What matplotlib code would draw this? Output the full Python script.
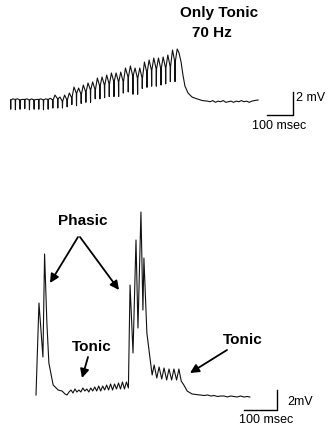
import matplotlib
matplotlib.use("Agg")
import matplotlib.pyplot as plt

plt.rcParams["font.family"] = ["Liberation Sans", "DejaVu Sans"]

# -------------------------------------------------
# DATA (ms / mV)
# -------------------------------------------------
# top trace: 70 Hz train, one stimulus artifact per cycle
top_stim_ms = [2, 20, 38, 56, 74, 92, 110, 128, 146, 164, 183, 201, 219, 237,
               255, 273, 291, 309, 327, 345, 363, 381, 399, 417, 435, 454, 472,
               490, 508, 526, 544, 562, 580, 598, 616, 634]
top_base_mv = [0.0, 0.05, 0.0, 0.05, 0.0, 0.0, 0.05, 0.0, 0.05,
               0.0, 0.1, -0.1, 0.0, 0.2, 0.6, 0.5, 0.7, 0.9, 0.9, 1.2, 1.3,
               1.4, 1.6, 1.6, 1.6, 2.0, 2.1, 1.9, 1.9, 2.4, 2.6, 2.7, 2.7,
               2.8, 2.9, 3.3]
top_dip_mv = [-0.8, -0.85, -0.8, -0.75, -0.85, -0.8, -0.8, -0.85, -0.8,
              -0.7, -0.7, -0.7, -0.6, -0.4, -0.5, -0.3, -0.2, -0.2, 0.1, 0.1,
              0.2, 0.3, 0.3, 0.3, 0.6, 0.7, 0.5, 0.5, 1.0, 1.1, 1.2, 1.2,
              1.3, 1.4, 1.6, 1.6]
top_peak_mv = [0.1, 0.1, 0.05, 0.1, 0.1, 0.05, 0.1, 0.1, 0.15,
               0.43, 0.26, 0.43, 0.61, 1.13, 1.04, 1.30, 1.48, 1.57, 1.91,
               2.0, 2.17, 2.35, 2.35, 2.43, 2.78, 2.96, 2.78, 2.78, 3.3, 3.48,
               3.65, 3.65, 3.74, 3.91, 4.35, 4.43]
top_tail_ms = [650, 658, 665, 673, 685, 700, 719, 740, 760, 770, 780, 790,
               800, 810, 820, 830, 840, 850, 860, 870, 880, 890, 900, 910,
               920, 930, 940, 954]
top_tail_mv = [4.1, 3.3, 2.2, 1.2, 0.6, 0.26, 0.1, -0.05, -0.1, -0.15, -0.05,
               -0.2, -0.1, -0.15, -0.05, -0.2, -0.15, -0.1, -0.2, -0.1, -0.15,
               -0.05, -0.15, -0.1, -0.2, -0.1, -0.05, 0.0]

# bottom trace: phasic bursts with tonic ripple in between
bottom_ms = [0, 9, 21, 26, 33, 39, 52, 67, 79, 88, 94,
             100, 106, 112, 118, 124, 130, 136, 142, 148, 154, 160, 166, 172,
             178, 184, 190, 196, 202, 208, 214, 220, 226, 232, 238, 244, 250,
             256, 262, 268, 274, 280,
             285, 294, 303, 309, 318, 324, 327, 336, 345,
             352, 358, 366, 373, 381, 388, 396, 403, 411, 418, 426, 433, 440,
             448, 458, 473, 497,
             510, 520, 530, 540, 550, 560, 570, 580, 590, 600, 610, 620, 630,
             640, 648]
bottom_mv = [0.0, 9.2, 3.8, 14.1, 7.2, 3.2, 1.0, 0.5, 0.4, 0.1, 0.0,
             0.3, 0.5, 0.2, 0.6, 0.3, 0.5, 0.3, 0.7, 0.4, 0.6, 0.3, 0.7, 0.4,
             0.8, 0.4, 0.9, 0.4, 0.9, 0.5, 1.0, 0.5, 1.1, 0.5, 1.1, 0.6, 1.2,
             0.6, 1.3, 0.6, 1.3, 0.7,
             11.0, 4.2, 15.5, 6.7, 18.3, 8.5, 13.7, 6.2, 3.8,
             2.0, 3.0, 1.7, 2.8, 1.6, 2.7, 1.5, 2.6, 1.5, 2.6, 1.5, 2.6, 1.4,
             1.0, 0.4, 0.1, 0.0,
             -0.05, 0.0, -0.1, -0.05, -0.15, -0.1, -0.1, -0.2, -0.1, -0.15,
             -0.2, -0.1, -0.2, -0.15, -0.2]

# scale bars
bar_ms = 100
bar_mv = 2

# -------------------------------------------------
# LAYOUT (pixels of the 330 x 429 image)
# -------------------------------------------------
W, H = 330, 429


def fp(x, y):
    return (x / W, 1 - y / H)


def trace_axes(fig, x0, y0, px_per_ms, px_per_mv):
    ax = fig.add_axes([0, 0, 1, 1])
    ax.set_xlim(-x0 / px_per_ms, (W - x0) / px_per_ms)
    ax.set_ylim((y0 - H) / px_per_mv, y0 / px_per_mv)
    ax.axis("off")
    ax.patch.set_alpha(0)
    return ax


fig = plt.figure(figsize=(W / 100, H / 100), dpi=100)
fig.patch.set_facecolor("white")

# -------------------------------------------------
# TOP PANEL
# -------------------------------------------------
ax_top = trace_axes(fig, 10, 100, 0.26, 11.5)

t_top, v_top = [], []
for t, base, dip, peak in zip(top_stim_ms, top_base_mv, top_dip_mv, top_peak_mv):
    t_top += [t, t + 0.8, t + 1.6, t + 9]
    v_top += [base, dip, base, peak]
t_top += top_tail_ms
v_top += top_tail_mv
ax_top.plot(t_top, v_top, color="#111111", lw=0.8, solid_joinstyle="round")

# scale bar
sx, sy = 1088, -1.3
ax_top.plot([sx - bar_ms, sx, sx], [sy, sy, sy + bar_mv], color="black", lw=1.0)

fig.text(*fp(219, 13), "Only Tonic", ha="center", va="center",
         fontsize=11, weight="bold")
fig.text(*fp(212, 33), "70 Hz", ha="center", va="center",
         fontsize=11, weight="bold")
fig.text(*fp(296, 98), "2 mV", ha="left", va="center", fontsize=9)
fig.text(*fp(279, 126), "100 msec", ha="center", va="center", fontsize=9)

# -------------------------------------------------
# BOTTOM PANEL
# -------------------------------------------------
ax_bot = trace_axes(fig, 36, 395, 0.33, 10)
ax_bot.plot(bottom_ms, bottom_mv, color="#111111", lw=0.8,
            solid_joinstyle="round")

sx, sy = 730, -1.5
ax_bot.plot([sx - bar_ms, sx, sx], [sy, sy, sy + bar_mv], color="black", lw=1.0)

fig.text(*fp(287, 402), "2mV", ha="left", va="center", fontsize=9)
fig.text(*fp(266, 420), "100 msec", ha="center", va="center", fontsize=9)

arrow = dict(arrowstyle="-|>", lw=1.3, color="black", mutation_scale=13,
             shrinkA=0, shrinkB=0)

fig.text(*fp(83, 221), "Phasic", ha="center", va="center",
         fontsize=11, weight="bold")
ax_bot.annotate("", xy=fp(50, 283), xytext=fp(78, 237),
                xycoords="figure fraction", textcoords="figure fraction",
                arrowprops=arrow)
ax_bot.annotate("", xy=fp(119, 290), xytext=fp(80, 237),
                xycoords="figure fraction", textcoords="figure fraction",
                arrowprops=arrow)

fig.text(*fp(92, 347), "Tonic", ha="center", va="center",
         fontsize=11, weight="bold")
ax_bot.annotate("", xy=fp(82, 378), xytext=fp(88, 357),
                xycoords="figure fraction", textcoords="figure fraction",
                arrowprops=arrow)

fig.text(*fp(243, 340), "Tonic", ha="center", va="center",
         fontsize=11, weight="bold")
ax_bot.annotate("", xy=fp(190, 373), xytext=fp(227, 350),
                xycoords="figure fraction", textcoords="figure fraction",
                arrowprops=arrow)

fig.savefig("out.png", dpi=100, facecolor="white")
